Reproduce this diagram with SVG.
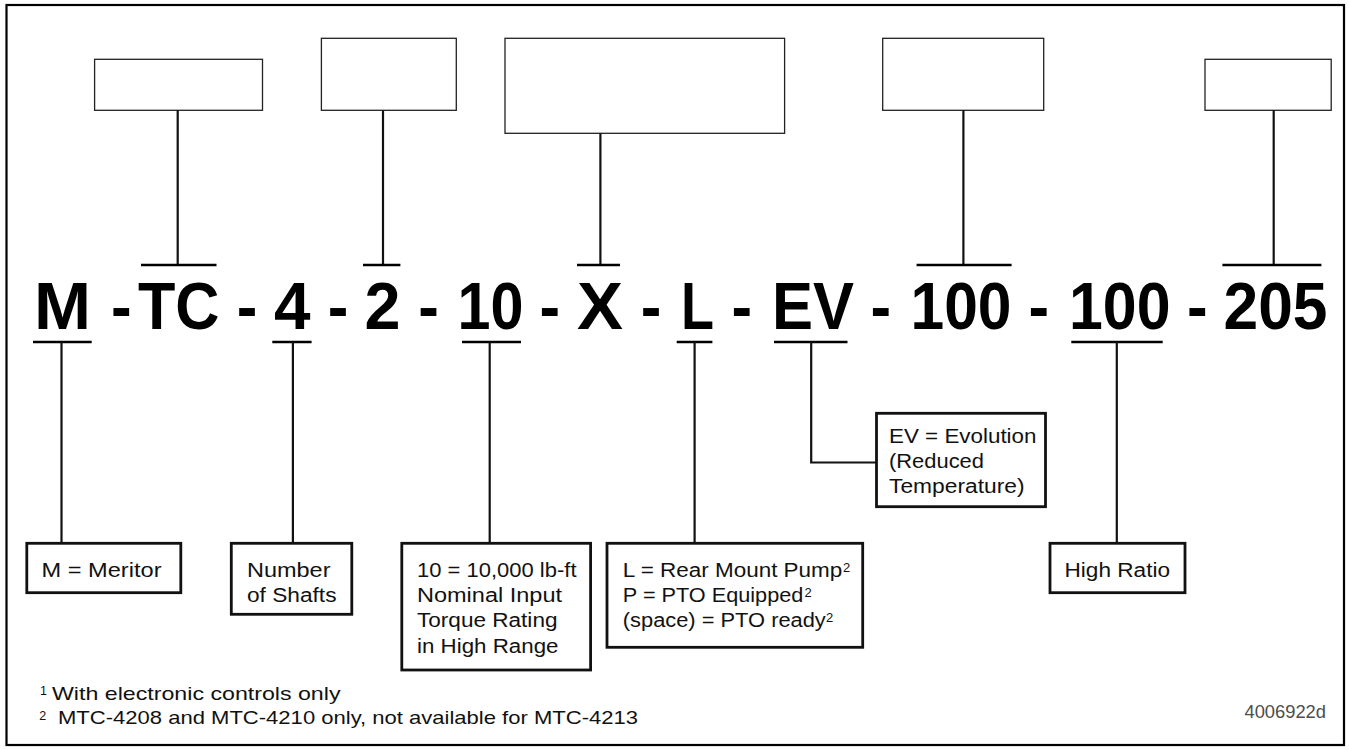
<svg xmlns="http://www.w3.org/2000/svg" width="1349" height="750" viewBox="0 0 1349 750">
<style>
.frame{fill:none;stroke:#000;stroke-width:2.2}
.tbox{fill:#fff;stroke:#222;stroke-width:1.3}
.bbox{fill:#fff;stroke:#111;stroke-width:2.8}
.con{fill:none;stroke:#111;stroke-width:2.2}
.bar{fill:none;stroke:#000;stroke-width:2.6}
.big{font-family:"Liberation Sans",Arial,sans-serif;font-weight:bold;font-size:66px;fill:#000}
.lbl{font-family:"Liberation Sans",Arial,sans-serif;font-size:19.5px;fill:#111}
.sup{font-family:"Liberation Sans",Arial,sans-serif;font-size:13px;fill:#111}
.foot{font-family:"Liberation Sans",Arial,sans-serif;font-size:18.5px;fill:#111}
.fsup{font-family:"Liberation Sans",Arial,sans-serif;font-size:12.5px;fill:#111}
.id{font-family:"Liberation Sans",Arial,sans-serif;font-size:18px;fill:#4d4d4d}
</style>
<rect x="0" y="0" width="1349" height="750" fill="#fff"/>
<rect class="frame" x="6.5" y="5" width="1337.5" height="740"/>

<g id="model-code">
<text class="big" x="34" y="329" textLength="57" lengthAdjust="spacingAndGlyphs">M</text>
<text class="big" x="111" y="329" textLength="20.6" lengthAdjust="spacingAndGlyphs">-</text>
<text class="big" x="138" y="329" textLength="81.5" lengthAdjust="spacingAndGlyphs">TC</text>
<text class="big" x="236.8" y="329" textLength="20.6" lengthAdjust="spacingAndGlyphs">-</text>
<text class="big" x="274" y="329" textLength="36.5" lengthAdjust="spacingAndGlyphs">4</text>
<text class="big" x="327.7" y="329" textLength="20.6" lengthAdjust="spacingAndGlyphs">-</text>
<text class="big" x="364.5" y="329" textLength="36" lengthAdjust="spacingAndGlyphs">2</text>
<text class="big" x="418.2" y="329" textLength="20.6" lengthAdjust="spacingAndGlyphs">-</text>
<text class="big" x="457.5" y="329" textLength="66" lengthAdjust="spacingAndGlyphs">10</text>
<text class="big" x="539.4" y="329" textLength="20.6" lengthAdjust="spacingAndGlyphs">-</text>
<text class="big" x="577" y="329" textLength="46" lengthAdjust="spacingAndGlyphs">X</text>
<text class="big" x="640.7" y="329" textLength="20.6" lengthAdjust="spacingAndGlyphs">-</text>
<text class="big" x="681" y="329" textLength="33" lengthAdjust="spacingAndGlyphs">L</text>
<text class="big" x="731.5" y="329" textLength="20.6" lengthAdjust="spacingAndGlyphs">-</text>
<text class="big" x="772" y="329" textLength="82" lengthAdjust="spacingAndGlyphs">EV</text>
<text class="big" x="870.4" y="329" textLength="20.6" lengthAdjust="spacingAndGlyphs">-</text>
<text class="big" x="910.5" y="329" textLength="101" lengthAdjust="spacingAndGlyphs">100</text>
<text class="big" x="1028.6" y="329" textLength="20.6" lengthAdjust="spacingAndGlyphs">-</text>
<text class="big" x="1069" y="329" textLength="101.5" lengthAdjust="spacingAndGlyphs">100</text>
<text class="big" x="1187" y="329" textLength="20.6" lengthAdjust="spacingAndGlyphs">-</text>
<text class="big" x="1223.5" y="329" textLength="104" lengthAdjust="spacingAndGlyphs">205</text>
</g>

<g id="top-box-1"><rect class="tbox" x="94.6" y="59.3" width="167.9" height="51"/></g>
<g id="top-box-2"><rect class="tbox" x="321.4" y="38.3" width="134.9" height="72"/></g>
<g id="top-box-3"><rect class="tbox" x="505" y="38.3" width="279.6" height="95"/></g>
<g id="top-box-4"><rect class="tbox" x="882.7" y="38.3" width="161" height="72"/></g>
<g id="top-box-5"><rect class="tbox" x="1205" y="59.3" width="126.2" height="51"/></g>

<g id="box-meritor">
<rect class="bbox" x="26.8" y="543.3" width="154" height="49.4"/>
<text class="lbl" x="41.5" y="576.7" textLength="120" lengthAdjust="spacingAndGlyphs">M = Meritor</text>
</g>
<g id="box-shafts">
<rect class="bbox" x="231.3" y="543.3" width="120.5" height="71"/>
<text class="lbl" x="247" y="576.7" textLength="83.5" lengthAdjust="spacingAndGlyphs">Number</text>
<text class="lbl" x="247" y="601.7" textLength="89.5" lengthAdjust="spacingAndGlyphs">of Shafts</text>
</g>
<g id="box-torque">
<rect class="bbox" x="401.8" y="543.3" width="188.8" height="126.7"/>
<text class="lbl" x="417" y="576.7" textLength="159.5" lengthAdjust="spacingAndGlyphs">10 = 10,000 lb-ft</text>
<text class="lbl" x="417" y="601.7" textLength="145" lengthAdjust="spacingAndGlyphs">Nominal Input</text>
<text class="lbl" x="417" y="627.3" textLength="140.5" lengthAdjust="spacingAndGlyphs">Torque Rating</text>
<text class="lbl" x="417" y="652.7" textLength="141.5" lengthAdjust="spacingAndGlyphs">in High Range</text>
</g>
<g id="box-pump">
<rect class="bbox" x="607" y="543.3" width="255.7" height="104"/>
<text class="lbl" x="622.8" y="576.7" textLength="219.5" lengthAdjust="spacingAndGlyphs">L = Rear Mount Pump</text>
<text class="sup" x="843" y="571.5">2</text>
<text class="lbl" x="622.8" y="601.7" textLength="180.5" lengthAdjust="spacingAndGlyphs">P = PTO Equipped</text>
<text class="sup" x="804.5" y="596.5">2</text>
<text class="lbl" x="622.8" y="627.3" textLength="203" lengthAdjust="spacingAndGlyphs">(space) = PTO ready</text>
<text class="sup" x="826" y="622">2</text>
</g>
<g id="box-evolution">
<rect class="bbox" x="876.5" y="413.3" width="169" height="93.4"/>
<text class="lbl" x="889" y="443.3" textLength="147.5" lengthAdjust="spacingAndGlyphs">EV = Evolution</text>
<text class="lbl" x="889" y="468.3" textLength="95" lengthAdjust="spacingAndGlyphs">(Reduced</text>
<text class="lbl" x="889" y="493.3" textLength="135.5" lengthAdjust="spacingAndGlyphs">Temperature)</text>
</g>
<g id="box-ratio">
<rect class="bbox" x="1050" y="543.3" width="135" height="49.4"/>
<text class="lbl" x="1064.5" y="576.7" textLength="105.5" lengthAdjust="spacingAndGlyphs">High Ratio</text>
</g>

<g id="connectors">
<line class="con" x1="177.7" y1="110.3" x2="177.7" y2="265"/>
<line class="bar" x1="141" y1="265" x2="216.5" y2="265"/>
<line class="con" x1="383" y1="110.3" x2="383" y2="265"/>
<line class="bar" x1="363" y1="265" x2="400.4" y2="265"/>
<line class="con" x1="600.4" y1="133.3" x2="600.4" y2="265"/>
<line class="bar" x1="577" y1="265" x2="620" y2="265"/>
<line class="con" x1="963.4" y1="110.3" x2="963.4" y2="265"/>
<line class="bar" x1="916.6" y1="265" x2="1011.6" y2="265"/>
<line class="con" x1="1273.7" y1="110.3" x2="1273.7" y2="265"/>
<line class="bar" x1="1222.4" y1="265" x2="1321.4" y2="265"/>

<line class="bar" x1="33" y1="342" x2="91.7" y2="342"/>
<line class="con" x1="61.5" y1="342" x2="61.5" y2="543.3"/>
<line class="bar" x1="272.3" y1="342" x2="311.6" y2="342"/>
<line class="con" x1="292.9" y1="342" x2="292.9" y2="543.3"/>
<line class="bar" x1="462" y1="342" x2="521" y2="342"/>
<line class="con" x1="489.7" y1="342" x2="489.7" y2="543.3"/>
<line class="bar" x1="676.7" y1="342" x2="712.4" y2="342"/>
<line class="con" x1="694.6" y1="342" x2="694.6" y2="543.3"/>
<line class="bar" x1="774" y1="342" x2="847.5" y2="342"/>
<polyline class="con" points="811.2,342 811.2,462.5 876.5,462.5"/>
<line class="bar" x1="1071.3" y1="342" x2="1162.7" y2="342"/>
<line class="con" x1="1116.8" y1="342" x2="1116.8" y2="543.3"/>
</g>

<g id="footnotes">
<text class="fsup" x="40" y="695">1</text>
<text class="foot" x="52" y="700" textLength="288.5" lengthAdjust="spacingAndGlyphs">With electronic controls only</text>
<text class="fsup" x="39.3" y="720">2</text>
<text class="foot" x="58" y="724.3" textLength="580" lengthAdjust="spacingAndGlyphs">MTC-4208 and MTC-4210 only, not available for MTC-4213</text>
<text class="id" x="1244.5" y="718.3" textLength="81.5" lengthAdjust="spacingAndGlyphs">4006922d</text>
</g>
</svg>
